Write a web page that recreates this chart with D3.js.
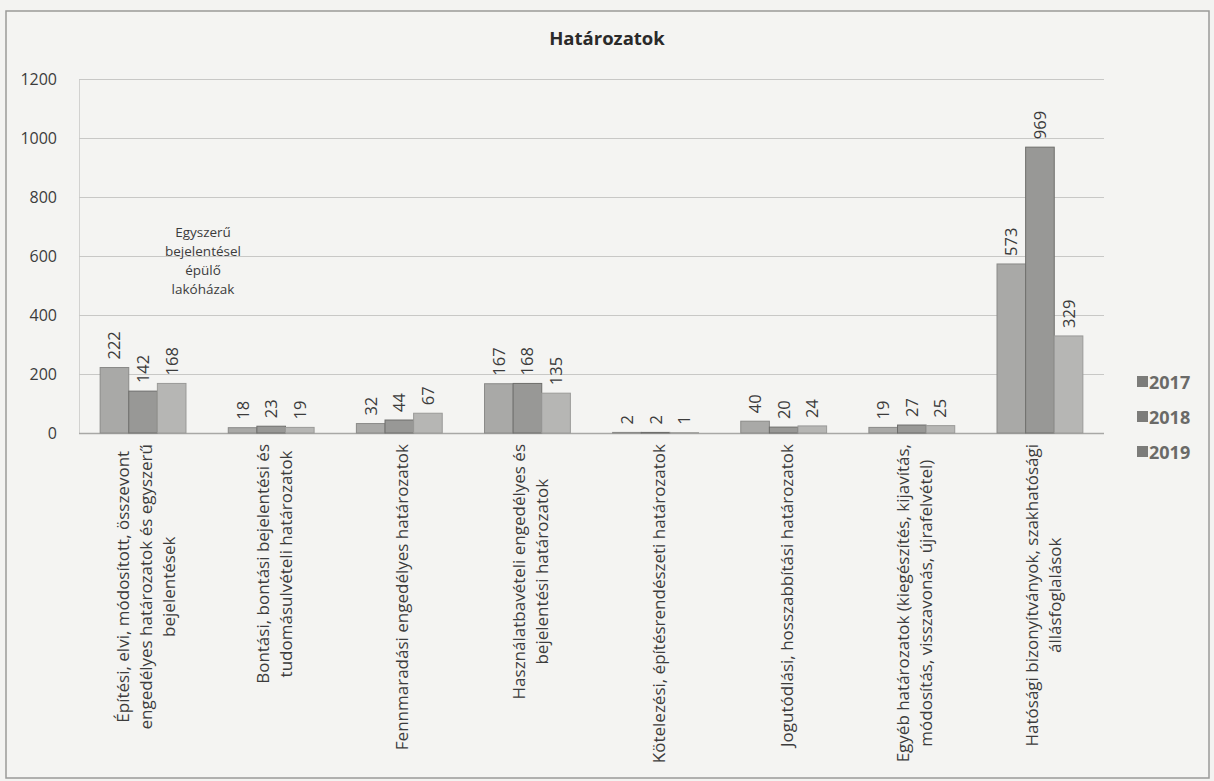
<!DOCTYPE html>
<html>
<head>
<meta charset="utf-8">
<script src="https://cdn.jsdelivr.net/npm/d3@7"></script>
<style>
  html, body { margin: 0; padding: 0; background: #f3f3f1; }
  svg { display: block; }
</style>
</head>
<body>
<svg id="chart" width="1214" height="781"></svg>
<script>
// ---- data ----
const title = "Határozatok";
const years = ["2017", "2018", "2019"];
const categories = [
  "Építési, elvi, módosított, összevont engedélyes határozatok és egyszerű bejelentések",
  "Bontási, bontási bejelentési és tudomásulvételi határozatok",
  "Fennmaradási engedélyes határozatok",
  "Használatbavételi engedélyes és bejelentési határozatok",
  "Kötelezési, építésrendészeti határozatok",
  "Jogutódlási, hosszabbítási határozatok",
  "Egyéb határozatok (kiegészítés, kijavítás, módosítás, visszavonás, újrafelvétel)",
  "Hatósági bizonyítványok, szakhatósági állásfoglalások"
];
const categoryLines = [
  ["Építési, elvi, módosított, összevont", "engedélyes határozatok és egyszerű", "bejelentések"],
  ["Bontási, bontási bejelentési és", "tudomásulvételi határozatok"],
  ["Fennmaradási engedélyes határozatok"],
  ["Használatbavételi engedélyes és", "bejelentési határozatok"],
  ["Kötelezési, építésrendészeti határozatok"],
  ["Jogutódlási, hosszabbítási határozatok"],
  ["Egyéb határozatok (kiegészítés, kijavítás,", "módosítás, visszavonás, újrafelvétel)"],
  ["Hatósági bizonyítványok, szakhatósági", "állásfoglalások"]
];
const values2017 = [222, 18, 32, 167, 2, 40, 19, 573];
const values2018 = [142, 23, 44, 168, 2, 20, 27, 969];
const values2019 = [168, 19, 67, 135, 1, 24, 25, 329];
const yTicks = [0, 200, 400, 600, 800, 1000, 1200];
const annotationLines = ["Egyszerű", "bejelentésel", "épülő", "lakóházak"];

// ---- layout ----
const svg = d3.select("#chart");
const plot = { left: 79, right: 1104, top: 79, bottom: 433 };
const font = "'Open Sans', 'Noto Sans', sans-serif";
const textColor = "#3c3c3c";
const colors = { "2017": "#a9a9a7", "2018": "#989896", "2019": "#b6b6b4" };
const strokes = { "2017": "#8a8a88", "2018": "#6e6e6c", "2019": "#9a9a98" };

// outer border
svg.append("rect")
  .attr("x", 6).attr("y", 11).attr("width", 1203).attr("height", 767)
  .attr("fill", "#f4f4f2").attr("stroke", "#9a9a98").attr("stroke-width", 1.5);

const series = years.map((yr, i) => ({
  year: yr,
  values: [values2017, values2018, values2019][i]
}));

const x0 = d3.scaleBand().domain(categories)
  .range([plot.left, plot.right]).paddingInner(0.33).paddingOuter(0.165);
const x1 = d3.scaleBand().domain(years).range([0, x0.bandwidth()]);
const y = d3.scaleLinear().domain([0, 1200]).range([plot.bottom, plot.top]);

// gridlines + y axis
const yAxis = d3.axisLeft(y).tickValues(yTicks).tickFormat(d3.format("d"))
  .tickSize(-(plot.right - plot.left)).tickPadding(22);
const gy = svg.append("g").attr("transform", `translate(${plot.left},0)`).call(yAxis);
gy.select(".domain").attr("stroke", "#d2d2d0").attr("stroke-width", 1);
gy.selectAll(".tick line").attr("stroke", "#c8c8c6").attr("stroke-width", 1);
gy.selectAll(".tick text")
  .attr("font-family", font).attr("font-size", 16).attr("fill", textColor);
gy.selectAll(".tick").filter(d => d === 0).select("line").attr("stroke", "#a8a8a6").attr("stroke-width", 1.3);

// bars
const groups = svg.append("g").selectAll("g").data(categories).join("g")
  .attr("transform", d => `translate(${x0(d)},0)`);

groups.selectAll("rect")
  .data((d, ci) => series.map(s => ({ year: s.year, value: s.values[ci] })))
  .join("rect")
  .attr("x", d => x1(d.year))
  .attr("y", d => y(d.value))
  .attr("width", x1.bandwidth())
  .attr("height", d => y(0) - y(d.value))
  .attr("fill", d => colors[d.year])
  .attr("stroke", d => strokes[d.year])
  .attr("stroke-width", 1);

// value labels (rotated)
const valFs = 16.5;
groups.selectAll("g.lbl")
  .data((d, ci) => series.map(s => ({ year: s.year, value: s.values[ci] })))
  .join("g").attr("class", "lbl")
  .attr("transform", d => `translate(${x1(d.year) + x1.bandwidth() / 2},${y(d.value) - 8}) rotate(-90)`)
  .append("text")
  .attr("x", 0).attr("y", valFs * 0.36)
  .attr("text-anchor", "start")
  .attr("font-family", font).attr("font-size", valFs).attr("fill", textColor)
  .text(d => d.value);

// category labels (rotated, multi-line, centered block under the axis)
const catFs = 17, lineH = 23;
categories.forEach((c, ci) => {
  const cx = x0(c) + x0.bandwidth() / 2 + 3;
  const g = svg.append("g")
    .attr("transform", `translate(${cx},${plot.bottom + 11}) rotate(-90)`);
  const lines = categoryLines[ci];
  const texts = lines.map((ln, i) => g.append("text")
    .attr("font-family", font).attr("font-size", catFs).attr("fill", textColor)
    .attr("text-anchor", "middle")
    .attr("y", (i - (lines.length - 1) / 2) * lineH + catFs * 0.36)
    .text(ln));
  const maxW = d3.max(texts, t => t.node().getComputedTextLength());
  texts.forEach(t => t.attr("x", -maxW / 2));
});

// annotation
const ann = svg.append("text")
  .attr("font-family", font).attr("font-size", 13.5).attr("fill", textColor)
  .attr("text-anchor", "middle");
annotationLines.forEach((ln, i) => {
  ann.append("tspan").attr("x", 203).attr("y", 237 + i * 19).text(ln);
});

// title
svg.append("text")
  .attr("x", 607).attr("y", 45)
  .attr("text-anchor", "middle")
  .attr("font-family", font).attr("font-size", 18.5).attr("font-weight", "bold")
  .attr("fill", "#2a2a2a")
  .text(title);

// legend
const legend = svg.append("g").selectAll("g").data(years).join("g")
  .attr("transform", (d, i) => `translate(1137,${382 + i * 35})`);
legend.append("rect")
  .attr("x", 0).attr("y", -6).attr("width", 11).attr("height", 11)
  .attr("fill", "#7c7c7a");
legend.append("text")
  .attr("x", 12).attr("y", 6.5)
  .attr("font-family", font).attr("font-size", 18).attr("font-weight", "bold")
  .attr("fill", "#6a6a68")
  .text(d => d);
</script>
</body>
</html>
